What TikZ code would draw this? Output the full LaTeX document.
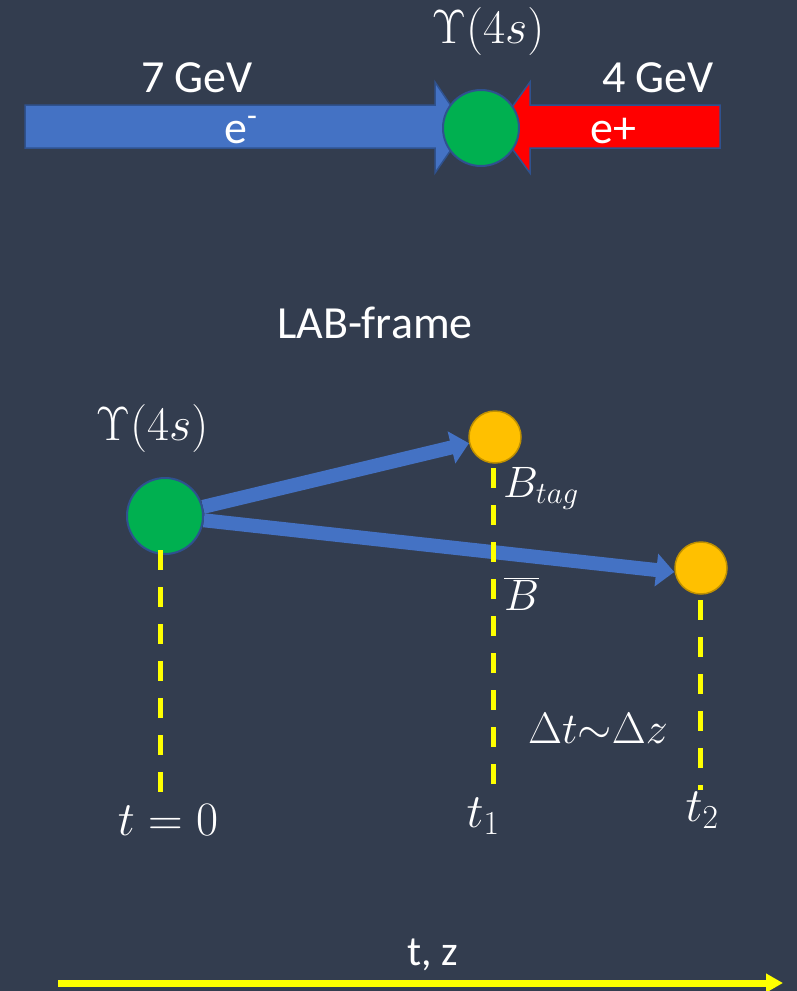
\RequirePackage{fix-cm}
\documentclass[tikz,border=0pt]{standalone}
\usepackage{fontspec}
\setmainfont{Carlito}
\usetikzlibrary{arrows.meta}
\definecolor{bgc}{HTML}{333D4F}
\definecolor{oblue}{HTML}{4472C4}
\definecolor{dblue}{HTML}{2F528F}
\definecolor{ogreen}{HTML}{00B050}
\definecolor{ored}{HTML}{FF0000}
\definecolor{oorange}{HTML}{FFC000}
\definecolor{dorange}{HTML}{BF9000}
\definecolor{oyellow}{HTML}{FFFF00}
\pgfdeclarelayer{bglayer}
\pgfdeclarelayer{backlayer}
\pgfsetlayers{bglayer,backlayer,main}
\newcommand\bigtxt{\fontsize{46}{50}\selectfont}
\newcommand\midtxt{\fontsize{44}{48}\selectfont}
\newcommand\largemath{\fontsize{48}{52}\selectfont}
\begin{document}
\begin{tikzpicture}[x=1pt,y=-1pt,
  lbl/.style={text=white,inner sep=0pt,font=\bigtxt},
  mlbl/.style={text=white,inner sep=0pt,font=\midtxt},
  llbl/.style={text=white,inner sep=0pt,font=\largemath},
  greenball/.style={circle,fill=ogreen,draw=dblue,line width=2pt,minimum size=76pt,inner sep=0pt},
  orangeball/.style={circle,fill=oorange,draw=dorange,line width=1.5pt,minimum size=52pt,inner sep=0pt},
  decay/.style={draw=oblue,line width=14pt,-{Triangle[width=32pt,length=18pt]}},
  ydash/.style={draw=oyellow,line width=5pt,dash pattern=on 20pt off 17pt},
  blockarrow/.style={line width=1.5pt,draw=dblue,line join=miter}]
\useasboundingbox (0,0) rectangle (797,991);
\begin{pgfonlayer}{bglayer}
\fill[bgc] (0,0) rectangle (797,991);
\end{pgfonlayer}

% ---- top: collision ----
\filldraw[blockarrow,fill=oblue] (25,105) -- (435,105) -- (435,82) -- (466,128) -- (435,173) -- (435,148) -- (25,148) -- cycle;
\filldraw[blockarrow,fill=ored] (720,105) -- (530,105) -- (530,82) -- (497,128) -- (530,173) -- (530,148) -- (720,148) -- cycle;
\node[greenball] (g1) at (481,128) {};
\node[llbl] (ups1) at (488,43) [anchor=base] {$\Upsilon(4s)$};
\node[lbl] (gev7) at (197,92) [anchor=base] {7 GeV};
\node[lbl] (gev4) at (658,92) [anchor=base] {4 GeV};
\node[lbl] (em) at (224,143) [anchor=base west] {e\textsuperscript{-}};
\node[lbl] (ep) at (590,143) [anchor=base west] {e+};

% ---- LAB frame ----
\node[lbl] (lab) at (375,338) [anchor=base] {LAB-frame};
\node[greenball] (g2) at (165,516) {};
\node[orangeball] (bt) at (495,437) {};
\node[orangeball] (bb) at (701,568) {};
\node[llbl] (ups2) at (152,440) [anchor=base] {$\Upsilon(4s)$};

\coordinate (l0a) at (160,550);
\coordinate (l0b) at (160,800);
\coordinate (l1a) at (493,468);
\coordinate (l1b) at (493,790);
\coordinate (l2a) at (700,600);
\coordinate (l2b) at (700,790);

\begin{pgfonlayer}{backlayer}
\draw[decay] (g2) -- (bt);
\draw[decay] (g2) -- ([yshift=-4pt]bb.west);
\end{pgfonlayer}
\draw[ydash] (l0a) -- (l0b);
\draw[ydash] (l1a) -- (l1b);
\draw[ydash] (l2a) -- (l2b);

\node[mlbl] (btag) at (503,497) [anchor=base west] {$B_{tag}$};
\node[mlbl] (bbar) at (504,610) [anchor=base west] {$\overline{B}$};
\node[mlbl] (dt) at (598,743) [anchor=base] {$\Delta t{\sim}\Delta z$};
\node[llbl] (t0) at (168,835) [anchor=base] {$t=0$};
\node[llbl] (t1) at (483,827) [anchor=base] {$t_1$};
\node[llbl] (t2) at (702,821) [anchor=base] {$t_2$};

% ---- axis ----
\coordinate (axa) at (58,983);
\coordinate (axb) at (783,983);
\draw[draw=oyellow,line width=7pt,-{Triangle[width=18pt,length=17pt]}] (axa) -- (axb);
\node[text=white,inner sep=0pt,font=\fontsize{42}{46}\selectfont] (tz) at (433,965) [anchor=base] {t, z};
\end{tikzpicture}
\end{document}
